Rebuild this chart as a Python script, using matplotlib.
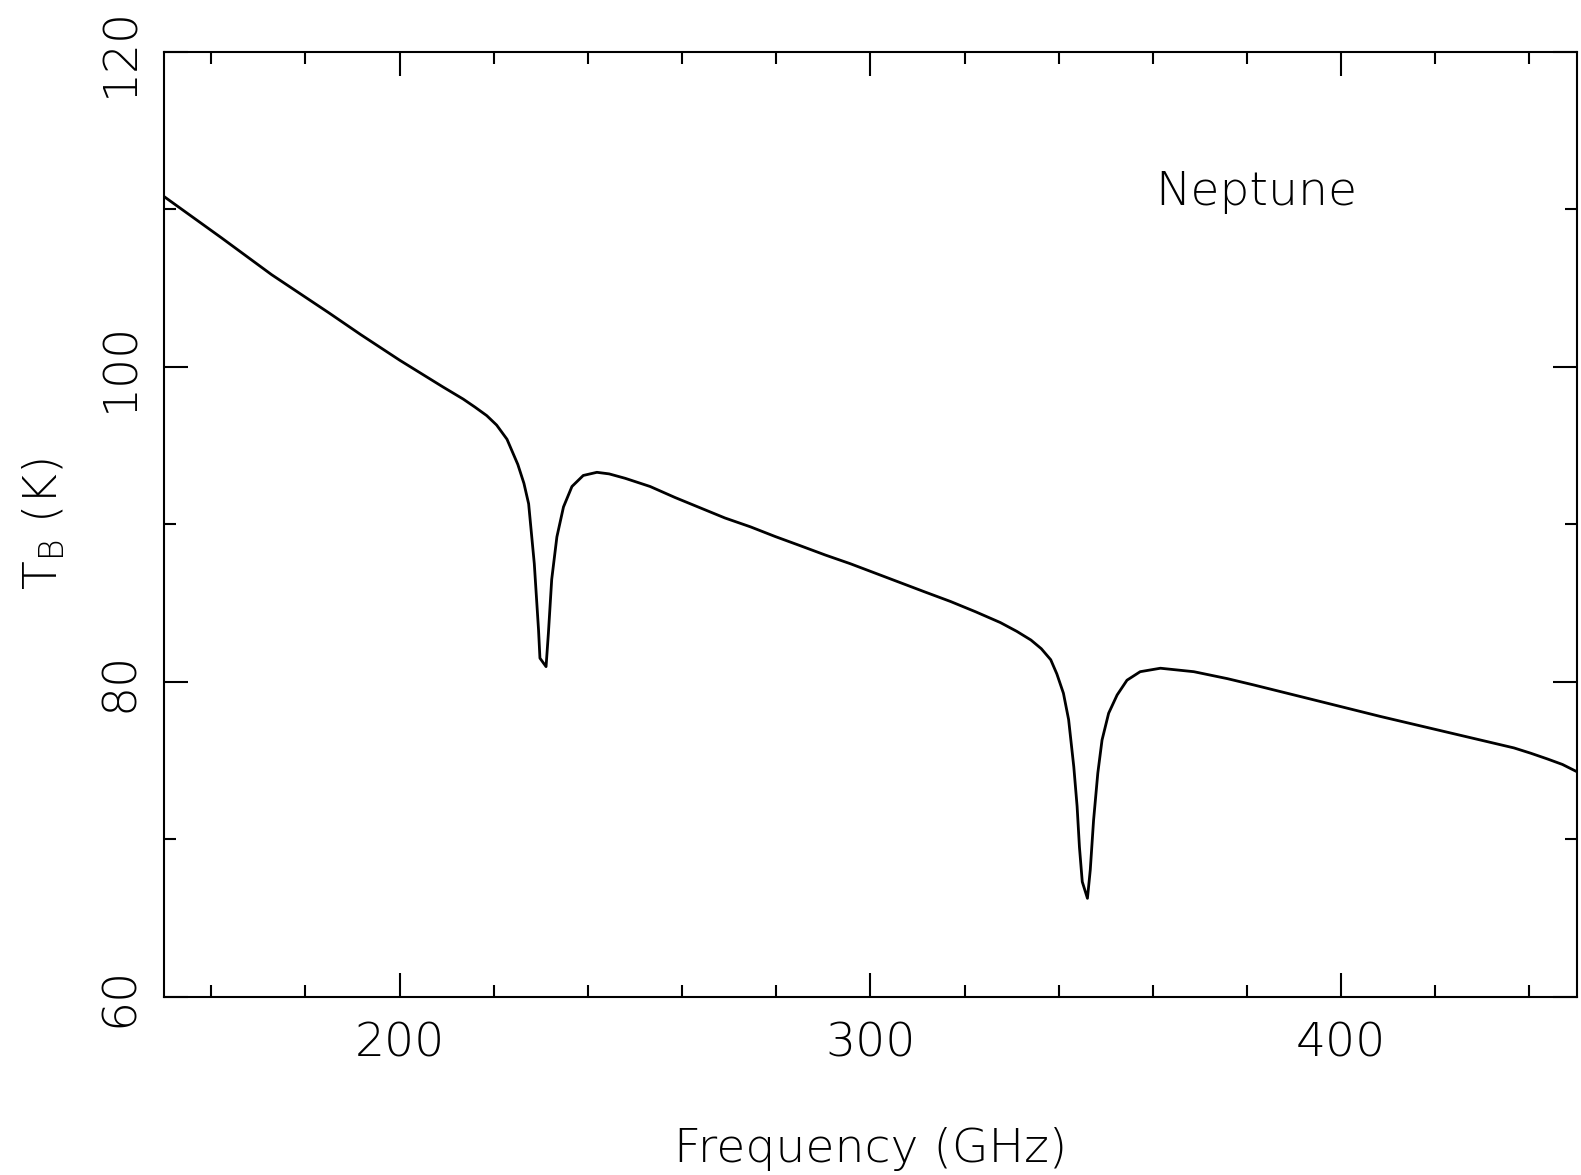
import numpy as np
import matplotlib
matplotlib.use("Agg")
import matplotlib.pyplot as plt
from matplotlib.ticker import MultipleLocator

# Neptune brightness temperature spectrum.
freq = [150.0, 162.1, 172.8, 185.0, 191.7, 200.0, 209.2, 213.5, 216.0, 218.5,
        220.6, 222.8, 225.1, 226.4, 227.4, 228.6, 229.5, 229.8, 231.1, 231.6,
        232.3, 233.4, 234.8, 236.6, 239.0, 241.9, 244.5, 247.9, 253.2, 258.5,
        263.8, 269.1, 274.5, 279.8, 285.1, 290.4, 295.7, 301.0, 306.3, 311.6,
        317.0, 322.3, 327.6, 331.1, 334.1, 336.3, 338.3, 339.6, 341.0, 342.1,
        343.2, 343.9, 344.4, 345.0, 346.1, 346.7, 347.4, 348.3, 349.2, 350.6,
        352.4, 354.5, 357.3, 361.6, 368.7, 375.8, 381.4, 394.2, 408.3, 422.5,
        436.7, 440.3, 443.8, 447.0, 450.0]
tb = [110.8, 108.2, 105.85, 103.42, 102.05, 100.42, 98.72, 97.95, 97.44, 96.9,
      96.3, 95.4, 93.8, 92.6, 91.3, 87.5, 83.3, 81.5, 80.96, 83.1,
      86.5, 89.2, 91.1, 92.4, 93.1, 93.3, 93.2, 92.92, 92.4, 91.7,
      91.05, 90.4, 89.84, 89.22, 88.64, 88.05, 87.5, 86.9, 86.3, 85.7,
      85.1, 84.45, 83.76, 83.2, 82.65, 82.1, 81.4, 80.5, 79.27, 77.6,
      74.6, 72.1, 69.5, 67.3, 66.25, 68.05, 71.2, 74.2, 76.3, 78.0,
      79.16, 80.1, 80.64, 80.86, 80.64, 80.2, 79.8, 78.85, 77.8, 76.8,
      75.8, 75.46, 75.1, 74.75, 74.3]

xticks_major = [200, 300, 400]
yticks_major = [60, 80, 100, 120]

plt.rcParams['font.family'] = ['DejaVu Sans']
plt.rcParams['font.weight'] = 'light'
plt.rcParams['mathtext.fontset'] = 'custom'
plt.rcParams['mathtext.rm'] = 'DejaVu Sans:light'

fig = plt.figure(figsize=(15.81, 11.75), dpi=100)
ax = fig.add_axes([0.1039, 0.1517, 0.8933, 0.8042])

ax.plot(freq, tb, color='black', lw=2.0)

ax.set_xlim(150, 450)
ax.set_ylim(60, 120)
ax.xaxis.set_minor_locator(MultipleLocator(20))
ax.yaxis.set_minor_locator(MultipleLocator(10))
ax.set_xticks(xticks_major)
ax.set_yticks(yticks_major)

# pgplot style: inward ticks on every side
ax.tick_params(which='both', direction='in', top=True, right=True,
               width=1.5, labelsize=34)
ax.tick_params(which='major', length=17)
ax.tick_params(which='minor', length=8.5)
ax.tick_params(axis='x', pad=18)
ax.tick_params(axis='y', pad=16)
for lab in ax.get_yticklabels():
    lab.set_rotation(90)
    lab.set_va('center')
for sp in ax.spines.values():
    sp.set_linewidth(1.5)

ax.set_xlabel('Frequency (GHz)', fontsize=34, fontweight='light', labelpad=44)
ax.set_ylabel(r'$\mathrm{T_B}$ (K)', fontsize=34, fontweight='light',
              labelpad=22)

ax.text(360.5, 110.3, 'Neptune', fontsize=34, va='baseline')

fig.savefig('out.png', dpi=100)
